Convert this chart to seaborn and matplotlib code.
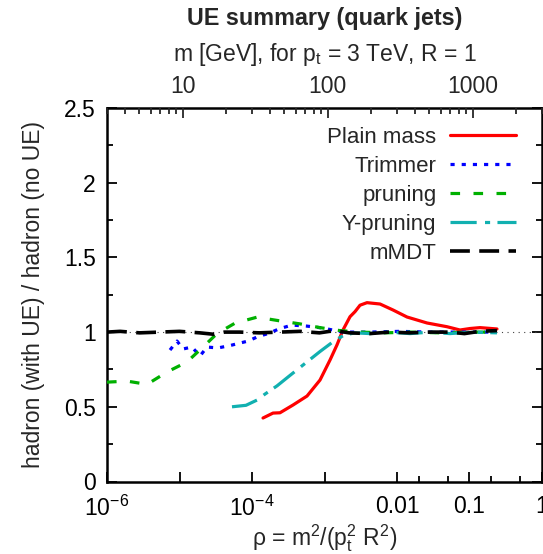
import numpy as np
import pandas as pd
import matplotlib
matplotlib.use("Agg")
import matplotlib.pyplot as plt
import matplotlib.ticker as mticker
import seaborn as sns

# ---- data (log10 rho, ratio) ----
plain_logrho = [-3.848, -3.710, -3.614, -3.434, -3.241, -3.062, -2.924, -2.828, -2.745,
                -2.648, -2.579, -2.510, -2.414, -2.234, -2.055, -1.862, -1.586, -1.310,
                -1.131, -0.993, -0.855, -0.621]
plain_val = [0.425, 0.458, 0.46, 0.512, 0.572, 0.679, 0.813, 0.914, 1.014,
             1.103, 1.137, 1.18, 1.197, 1.188, 1.148, 1.101, 1.061, 1.036,
             1.014, 1.024, 1.03, 1.021]

trim_logrho = [-5.131, -5.034, -4.952, -4.828, -4.717, -4.621, -4.469, -4.303, -4.055,
               -3.917, -3.779, -3.614, -3.448, -3.241, -3.021, -2.745, -2.372, -1.959,
               -1.545, -1.131, -0.621]
trim_val = [0.88, 0.94, 0.887, 0.90, 0.84, 0.90, 0.894, 0.91, 0.94,
            0.97, 0.99, 1.024, 1.047, 1.04, 1.027, 1.0, 1.0, 1.005,
            1.0, 1.0, 1.0]

prun_logrho = [-6.0, -5.724, -5.448, -5.172, -4.897, -4.676, -4.483, -4.234, -3.931,
               -3.614, -3.338, -3.062, -2.786, -2.510, -2.166, -1.821, -1.407, -0.993, -0.621]
prun_val = [0.665, 0.672, 0.65, 0.733, 0.80, 0.90, 0.99, 1.06, 1.10,
            1.075, 1.055, 1.03, 1.01, 1.0, 0.995, 1.0, 0.995, 1.0, 1.0]

ypr_logrho = [-4.276, -4.083, -3.931, -3.821, -3.655, -3.476, -3.269, -3.062, -2.883,
              -2.731, -2.579, -2.372, -2.097, -1.821, -1.545, -1.269, -0.993, -0.621]
ypr_val = [0.50, 0.51, 0.545, 0.585, 0.64, 0.71, 0.79, 0.87, 0.935,
           0.98, 0.995, 0.99, 1.0, 0.99, 1.0, 0.99, 1.0, 0.995]

mmdt_logrho = [-6.0, -5.82, -5.55, -5.27, -5.0, -4.72, -4.52, -4.38, -4.17, -3.90,
               -3.62, -3.34, -3.07, -2.86, -2.66, -2.38, -2.10, -1.83, -1.55, -1.27,
               -1.07, -0.86, -0.621]
mmdt_val = [1.0, 1.005, 0.995, 1.0, 1.005, 0.995, 0.985, 1.0, 1.0, 0.995,
            1.0, 1.005, 0.995, 1.01, 0.995, 0.99, 1.0, 0.995, 1.0, 1.0,
            0.99, 1.005, 1.01]

series_names = ["Plain mass", "Trimmer", "pruning", "Y-pruning", "mMDT"]
x_tick_vals = [1e-6, 1e-5, 1e-4, 1e-3, 1e-2, 1e-1, 1]
x_tick_labels = ["$10^{-6}$", "", "$10^{-4}$", "", "0.01", "0.1", "1"]
top_tick_vals = [10, 100, 1000]
top_tick_labels = ["10", "100", "1000"]
y_tick_vals = [0, 0.5, 1, 1.5, 2, 2.5]
y_tick_labels = ["0", "0.5", "1", "1.5", "2", "2.5"]
pt_gev = 3000.0

# ---- build table ----
frames = []
for name, lx, v in zip(series_names,
                       [plain_logrho, trim_logrho, prun_logrho, ypr_logrho, mmdt_logrho],
                       [plain_val, trim_val, prun_val, ypr_val, mmdt_val]):
    frames.append(pd.DataFrame({"rho": np.power(10.0, lx), "ratio": v, "series": name}))
df = pd.concat(frames, ignore_index=True)

sns.set_theme(style="white")
plt.rcParams["font.family"] = ["Liberation Sans", "DejaVu Sans"]
plt.rcParams["mathtext.fontset"] = "custom"
plt.rcParams["mathtext.rm"] = "Liberation Sans"
plt.rcParams["mathtext.it"] = "Liberation Sans:italic"
plt.rcParams["mathtext.default"] = "regular"

FS = 16.5

fig = plt.figure(figsize=(5.43, 5.54), dpi=100)
ax = fig.add_axes([107 / 543, 1 - 481.5 / 554, (542 - 107) / 543, (481.5 - 108) / 554])

styles = {
    "Plain mass": dict(color="#ff0000", linestyle="-", lw=2.3),
    "Trimmer": dict(color="#0000ff", linestyle=(0, (1.3, 2.2)), lw=2.3),
    "pruning": dict(color="#00b000", linestyle=(0, (3.0, 4.2)), lw=2.3),
    "Y-pruning": dict(color="#11b0b0", linestyle=(0, (8.2, 2.6, 1.6, 2.3)), lw=2.3),
    "mMDT": dict(color="#000000", linestyle=(0, (5.5, 2.6)), lw=2.6),
}

# reference line at 1
ax.axhline(1.0, color="#444444", lw=0.8, linestyle=(0, (1, 4)), zorder=1)

for name in series_names:
    st = styles[name]
    sub = df[df["series"] == name]
    sns.lineplot(data=sub, x="rho", y="ratio", ax=ax, estimator=None, sort=False,
                 color=st["color"], linestyle=st["linestyle"], linewidth=st["lw"],
                 label=name, legend=False, zorder=3)

ax.set_xscale("log")
ax.set_xlim(1e-6, 1)
ax.set_ylim(0, 2.5)

ax.xaxis.set_major_locator(mticker.FixedLocator(x_tick_vals))
ax.xaxis.set_major_formatter(mticker.FixedFormatter(x_tick_labels))
ax.xaxis.set_minor_locator(mticker.FixedLocator([0.02, 0.05, 0.2, 0.5]))
ax.xaxis.set_minor_formatter(mticker.NullFormatter())
ax.yaxis.set_major_locator(mticker.FixedLocator(y_tick_vals))
ax.yaxis.set_major_formatter(mticker.FixedFormatter(y_tick_labels))
ax.yaxis.set_minor_locator(mticker.MultipleLocator(0.25))

ax.tick_params(which="both", direction="in", width=1.3, colors="black", labelsize=FS)
ax.tick_params(which="major", length=7)
ax.tick_params(which="minor", length=4)
ax.tick_params(axis="y", which="both", left=True, right=True)
ax.tick_params(axis="x", which="both", bottom=True, top=False, pad=10)
ax.tick_params(axis="y", pad=8)

for sp in ax.spines.values():
    sp.set_color("black")
    sp.set_linewidth(1.8)

ax.set_xlabel("")
ax.set_ylabel("hadron (with UE) / hadron (no UE)", fontsize=FS, labelpad=14)
fig.text(324.5 / 543, 1 - 538 / 554, "ρ = m$^2$/(p$_t^2$ R$^2$)", ha="center",
         va="center", fontsize=FS)

# top axis: mass in GeV, m = pt * sqrt(rho)
ax2 = ax.twiny()
ax2.set_xscale("log")
ax2.set_xlim(pt_gev * np.sqrt(1e-6), pt_gev * np.sqrt(1.0))
ax2.xaxis.set_major_locator(mticker.FixedLocator(top_tick_vals))
ax2.xaxis.set_major_formatter(mticker.FixedFormatter(top_tick_labels))
ax2.xaxis.set_minor_locator(mticker.LogLocator(base=10, subs=np.arange(2, 10)))
ax2.xaxis.set_minor_formatter(mticker.NullFormatter())
ax2.tick_params(which="both", direction="in", width=1.3, labelsize=FS, pad=7)
ax2.tick_params(which="major", length=7)
ax2.tick_params(which="minor", length=4)
for sp in ax2.spines.values():
    sp.set_visible(False)

fig.text(324.5 / 543, 1 - 19 / 554, "UE summary (quark jets)", ha="center", va="center",
         fontsize=16.8, fontweight="bold")
fig.text(324.5 / 543, 1 - 55 / 554, "m [GeV], for p$_t$ = 3 TeV, R = 1", ha="center",
         va="center", fontsize=FS)

leg = ax.legend(loc="upper right", bbox_to_anchor=(0.972, 0.985), frameon=False,
                markerfirst=False, fontsize=16, handlelength=3.0, handletextpad=0.6,
                labelspacing=0.36, borderaxespad=0.2)

fig.savefig("out.png", dpi=100)
